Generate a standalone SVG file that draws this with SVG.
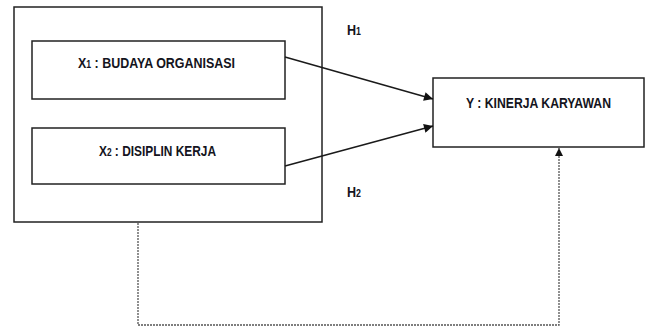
<svg xmlns="http://www.w3.org/2000/svg" width="645" height="327" viewBox="0 0 645 327">
<style>
.box{fill:#fff;stroke:#222;stroke-width:1.5}
.t{font-family:"Liberation Sans",Arial,sans-serif;font-weight:bold;font-size:15px;fill:#141420}
.s{font-size:10.5px}
.ln{stroke:#1a1a1a;stroke-width:1.5;fill:none}
.dot{stroke:#555;stroke-width:1.3;fill:none;stroke-dasharray:2 1}
</style>
<defs>
<marker id="ah" viewBox="0 0 10 10" refX="10" refY="5" markerWidth="10" markerHeight="9" markerUnits="userSpaceOnUse" orient="auto">
<path d="M0,0L10,5L0,10z" fill="#111"/>
</marker>
<marker id="ah2" viewBox="0 0 10 10" refX="10" refY="5" markerWidth="10" markerHeight="8" markerUnits="userSpaceOnUse" orient="auto">
<path d="M0,0L10,5L0,10z" fill="#111"/>
</marker>
</defs>
<g id="outer"><rect class="box" x="14" y="7" width="308" height="215"/></g>
<g id="x1">
<rect class="box" x="32" y="41" width="253" height="58"/>
<text class="t" x="78" y="68" textLength="157" lengthAdjust="spacingAndGlyphs">X<tspan class="s">1</tspan> : BUDAYA ORGANISASI</text>
</g>
<g id="x2">
<rect class="box" x="32" y="128" width="253" height="56"/>
<text class="t" x="99" y="156" textLength="117" lengthAdjust="spacingAndGlyphs">X<tspan class="s">2</tspan> : DISIPLIN KERJA</text>
</g>
<g id="y">
<rect class="box" x="433" y="78" width="211" height="69"/>
<text class="t" x="466" y="108" textLength="145" lengthAdjust="spacingAndGlyphs">Y : KINERJA KARYAWAN</text>
</g>
<g id="labels">
<text class="t" x="347" y="35" textLength="14" lengthAdjust="spacingAndGlyphs">H<tspan class="s">1</tspan></text>
<text class="t" x="347" y="197" textLength="14" lengthAdjust="spacingAndGlyphs">H<tspan class="s">2</tspan></text>
</g>
<g id="connectors">
<line class="ln" x1="285" y1="57" x2="433" y2="99" marker-end="url(#ah)"/>
<line class="ln" x1="285" y1="166" x2="433" y2="126" marker-end="url(#ah)"/>
<polyline class="dot" points="138,223 138,325 559,325 559,148" marker-end="url(#ah2)"/>
</g>
</svg>
